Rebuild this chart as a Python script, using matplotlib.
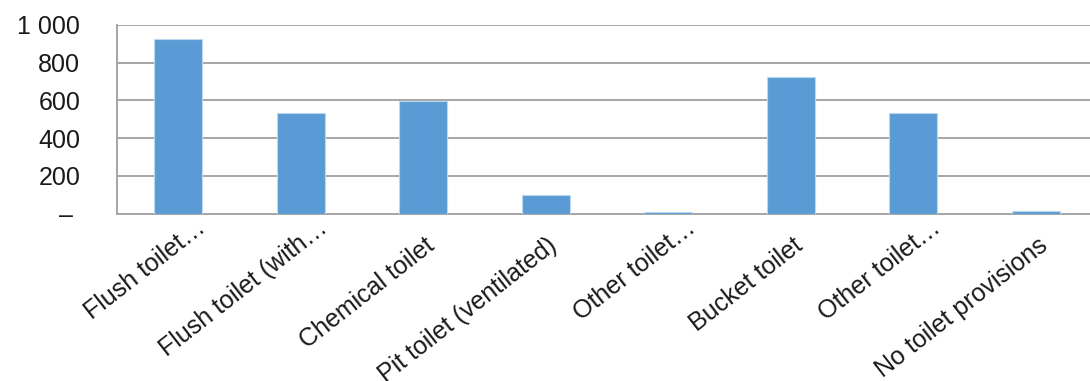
import matplotlib.pyplot as plt
import numpy as np

# toilet facility counts
categories = ['Flush toilet…', 'Flush toilet (with…', 'Chemical toilet',
              'Pit toilet (ventilated)', 'Other toilet…', 'Bucket toilet',
              'Other toilet…', 'No toilet provisions']
counts = [926, 532, 599, 99, 8, 723, 532, 15]
y_ticks = [0, 200, 400, 600, 800, 1000]
y_tick_labels = ['– ', '200', '400', '600', '800', '1 000']

plt.rcParams['font.family'] = ['Liberation Sans', 'DejaVu Sans']

fig = plt.figure(figsize=(10.9, 3.81), dpi=100)
ax = fig.add_axes([117 / 1090, 1 - 213.7 / 381, 980 / 1090, 188.7 / 381])

x = np.arange(len(categories))
ax.bar(x, counts, width=0.39, color='#5B9BD5', edgecolor='#BDD7EE', linewidth=0.8, zorder=3)

ax.set_xlim(-0.5, len(categories) - 0.5)
ax.set_ylim(0, 1000)
ax.set_yticks(y_ticks)
ax.set_yticklabels(y_tick_labels, fontsize=18, color='#1a1a1a')
ax.tick_params(axis='y', length=0, pad=26.5)
ax.grid(axis='y', color='#A6A6A6', linewidth=1.4, zorder=0)

# category labels, drawn slanted under each bar
ax.set_xticks(x)
ax.set_xticklabels([])
ax.tick_params(axis='x', length=0)
for i, name in enumerate(categories):
    if name.endswith('…'):
        off = (12, -1.4)
    else:
        off = (1, -14.4)
    ax.annotate(name, xy=(x[i], 0), xycoords=('data', 'axes fraction'),
                xytext=off, textcoords='offset points',
                rotation=38, rotation_mode='anchor', ha='right', va='top',
                fontsize=18, color='#1a1a1a', annotation_clip=False)

for side in ['top', 'right']:
    ax.spines[side].set_visible(False)
ax.spines['left'].set_color('#A6A6A6')
ax.spines['left'].set_linewidth(1.4)
ax.spines['bottom'].set_color('#A6A6A6')
ax.spines['bottom'].set_linewidth(1.4)

fig.savefig('out.png', dpi=100)
